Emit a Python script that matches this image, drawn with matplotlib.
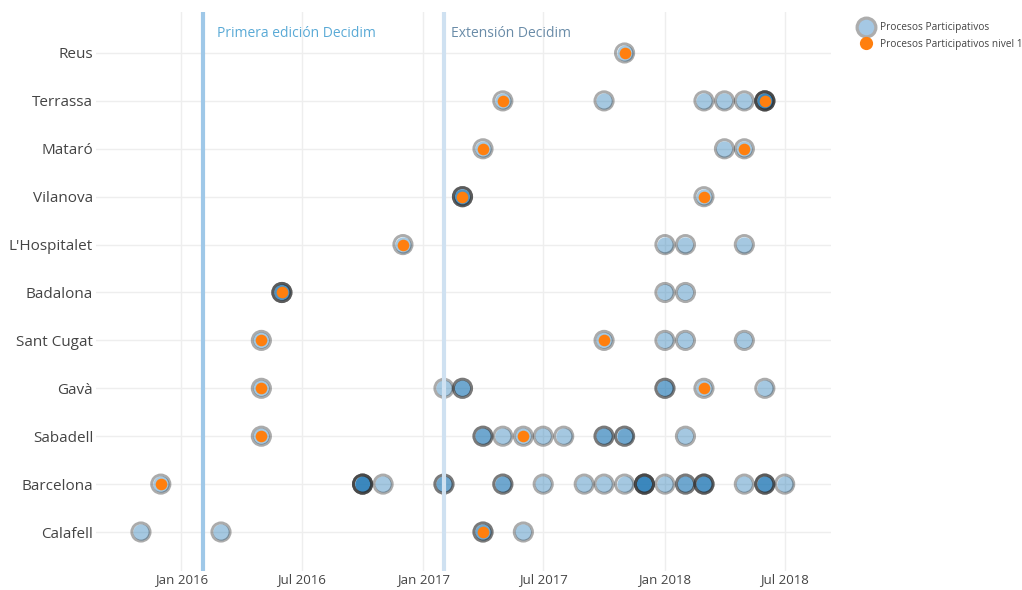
import matplotlib
matplotlib.use("Agg")
import matplotlib.pyplot as plt
import matplotlib.dates as mdates
from matplotlib.lines import Line2D
import numpy as np

plt.rcParams['font.family'] = ['Open Sans', 'DejaVu Sans']

# ciudades, de abajo a arriba
cities = ["Calafell", "Barcelona", "Sabadell", "Gavà", "Sant Cugat", "Badalona",
          "L'Hospitalet", "Vilanova", "Mataró", "Terrassa", "Reus"]

# procesos participativos: ciudad, mes de inicio, numero de procesos ese mes
proc_city = (["Reus"]
             + ["Terrassa"] * 6
             + ["Mataró"] * 3
             + ["Vilanova"] * 2
             + ["L'Hospitalet"] * 4
             + ["Badalona"] * 3
             + ["Sant Cugat"] * 5
             + ["Gavà"] * 6
             + ["Sabadell"] * 9
             + ["Barcelona"] * 16
             + ["Calafell"] * 4)
proc_month = (["2017-11"]
              + ["2017-05", "2017-10", "2018-03", "2018-04", "2018-05", "2018-06"]
              + ["2017-04", "2018-04", "2018-05"]
              + ["2017-03", "2018-03"]
              + ["2016-12", "2018-01", "2018-02", "2018-05"]
              + ["2016-06", "2018-01", "2018-02"]
              + ["2016-05", "2017-10", "2018-01", "2018-02", "2018-05"]
              + ["2016-05", "2017-02", "2017-03", "2018-01", "2018-03", "2018-06"]
              + ["2016-05", "2017-04", "2017-05", "2017-06", "2017-07", "2017-08",
                 "2017-10", "2017-11", "2018-02"]
              + ["2015-12", "2016-10", "2016-11", "2017-02", "2017-05", "2017-07",
                 "2017-09", "2017-10", "2017-11", "2017-12", "2018-01", "2018-02",
                 "2018-03", "2018-05", "2018-06", "2018-07"]
              + ["2015-11", "2016-03", "2017-04", "2017-06"])
proc_count = ([1]
              + [1, 1, 1, 1, 1, 4]
              + [1, 1, 1]
              + [3, 1]
              + [1, 1, 1, 1]
              + [3, 1, 1]
              + [1, 1, 1, 1, 1]
              + [1, 1, 2, 2, 1, 1]
              + [1, 2, 1, 1, 1, 1, 2, 2, 1]
              + [1, 4, 1, 2, 2, 1, 1, 1, 1, 4, 1, 2, 3, 1, 3, 1]
              + [1, 1, 2, 1])

# procesos participativos nivel 1
n1_city = ["Reus", "Terrassa", "Terrassa", "Mataró", "Mataró", "Vilanova", "Vilanova",
           "L'Hospitalet", "Badalona", "Sant Cugat", "Sant Cugat", "Gavà", "Gavà",
           "Sabadell", "Sabadell", "Barcelona", "Calafell"]
n1_month = ["2017-11", "2017-05", "2018-06", "2017-04", "2018-05", "2017-03", "2018-03",
            "2016-12", "2016-06", "2016-05", "2017-10", "2016-05", "2018-03",
            "2016-05", "2017-06", "2015-12", "2017-04"]

events = ["Primera edición Decidim", "Extensión Decidim"]
event_dates = ["2016-02-03", "2017-02-01"]

ypos = {c: i for i, c in enumerate(cities)}

fig = plt.figure(figsize=(10.22, 5.9), dpi=100)
ax = fig.add_axes([0.0939, 0.0322, 0.7192, 0.9475])

px = np.repeat(mdates.datestr2num([m + "-01" for m in proc_month]), proc_count)
py = np.repeat([ypos[c] for c in proc_city], proc_count)
# relleno azul y anillo gris por separado
ax.scatter(px, py, s=138, color="#1f77b4", linewidths=0, alpha=0.4, zorder=3)
ax.scatter(px, py, s=172, facecolors="none", edgecolors="#2f2f2f", linewidths=2.1,
           alpha=0.4, zorder=3)

nx = mdates.datestr2num([m + "-01" for m in n1_month])
ny = [ypos[c] for c in n1_city]
ax.scatter(nx, ny, s=70, color="#ff7f0e", linewidths=0, zorder=5)

line_colors = ["#9fc8e8", "#cfe1f1"]
text_colors = ["#5aaad6", "#6a8ca8"]
text_offsets = [10, 5]
for name, d, lc, tc, off in zip(events, event_dates, line_colors, text_colors, text_offsets):
    xd = mdates.datestr2num(d)
    ax.axvline(xd, color=lc, lw=3, zorder=4)
    ax.annotate(name, xy=(xd, 0.962), xycoords=("data", "axes fraction"),
                xytext=(off, 0), textcoords="offset points", va="center",
                ha="left", fontsize=10, color=tc)

ax.set_xlim(mdates.datestr2num("2015-08-25"), mdates.datestr2num("2018-09-09"))
ax.set_ylim(-0.814, len(cities) - 1 + 0.856)
ax.set_yticks(range(len(cities)))
ax.set_yticklabels(cities, fontsize=11, color="#444444")
ax.xaxis.set_major_locator(mdates.MonthLocator(bymonth=[1, 7]))
ax.xaxis.set_major_formatter(mdates.DateFormatter("%b %Y"))
ax.tick_params(axis="x", labelsize=9.5, colors="#444444", length=0, pad=1.5)
ax.tick_params(axis="y", length=0, pad=2)
ax.grid(True, color="#eeeeee", lw=1, zorder=0)
ax.set_axisbelow(True)
for s in ax.spines.values():
    s.set_visible(False)

handles = [
    Line2D([], [], marker="o", ls="", ms=13.5, markerfacecolor="#a5c8e4",
           markeredgecolor="#adadad", markeredgewidth=2.3),
    Line2D([], [], marker="o", ls="", ms=9.5, markerfacecolor="#ff7f0e",
           markeredgewidth=0),
]
fig.legend(handles, ["Procesos Participativos", "Procesos Participativos nivel 1"],
           loc="upper left", bbox_to_anchor=(0.842, 0.962), frameon=False,
           fontsize=7.3, labelcolor="#444444", handletextpad=0.9,
           labelspacing=0.55, handlelength=1.0, borderaxespad=0, borderpad=0)

fig.savefig("out.png", dpi=100)
